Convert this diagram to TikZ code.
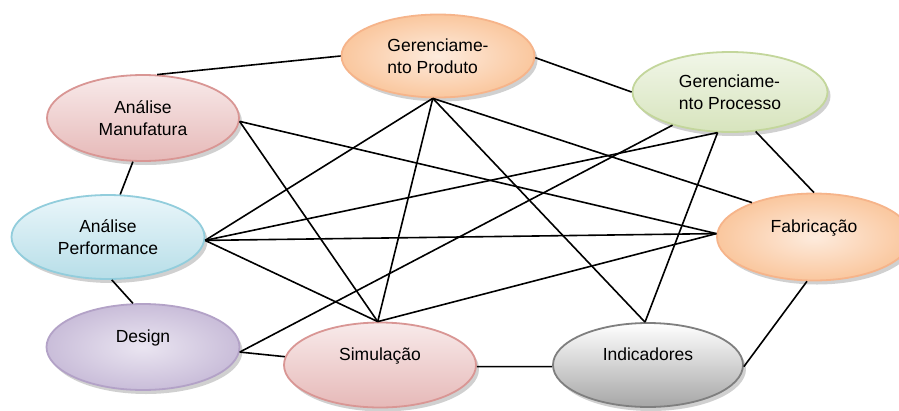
\documentclass[tikz,border=0pt]{standalone}
\usepackage{fontspec}
\setmainfont{Liberation Sans}
\usetikzlibrary{shapes.geometric,shadows}
\definecolor{orBorder}{HTML}{F6B48A}
\definecolor{orIn}{HTML}{FDEBDD}
\definecolor{orOut}{HTML}{FAC79E}
\definecolor{pkBorder}{HTML}{D99694}
\definecolor{pkTop}{HTML}{F8EAEA}
\definecolor{pkBot}{HTML}{E6B9B8}
\definecolor{grBorder}{HTML}{C3D69B}
\definecolor{grTop}{HTML}{F1F6E8}
\definecolor{grBot}{HTML}{D7E4BD}
\definecolor{blBorder}{HTML}{92CDDC}
\definecolor{blTop}{HTML}{EAF6FA}
\definecolor{blBot}{HTML}{B7DEE8}
\definecolor{lvBorder}{HTML}{B3A2C7}
\definecolor{lvIn}{HTML}{EAE5F1}
\definecolor{lvOut}{HTML}{C9BDD9}
\definecolor{gyBorder}{HTML}{7F7F7F}
\definecolor{gyTop}{HTML}{FFFFFF}
\definecolor{gyBot}{HTML}{A6A6A6}
\begin{document}
\begin{tikzpicture}[x=1pt,y=-1pt,
  bub/.style={ellipse, line width=1.8pt, inner sep=0pt,
    font=\fontsize{17.5}{22}\selectfont,
    drop shadow={shadow xshift=3pt, shadow yshift=-4pt, opacity=0.3, fill=black!60}},
  orange bub/.style={bub, draw=orBorder, inner color=orIn, outer color=orOut},
  pink bub/.style={bub, draw=pkBorder, top color=pkTop, bottom color=pkBot},
  green bub/.style={bub, draw=grBorder, top color=grTop, bottom color=grBot},
  blue bub/.style={bub, draw=blBorder, top color=blTop, bottom color=blBot},
  lav bub/.style={bub, draw=lvBorder, inner color=lvIn, outer color=lvOut},
  gray bub/.style={bub, draw=gyBorder, top color=gyTop, bottom color=gyBot},
  link/.style={line width=1.6pt, black}]
\clip (0,0) rectangle (899,410);
\fill[white] (0,0) rectangle (899,410);

\node[orange bub, minimum width=193pt, minimum height=83pt, align=left] (prod) at (438,56) {Gerenciame-\\nto Produto};
\node[pink bub, minimum width=192pt, minimum height=86pt, align=center] (manu) at (143,118) {Análise\\Manufatura};
\node[green bub, minimum width=195pt, minimum height=80pt, align=left] (proc) at (730,92) {Gerenciame-\\nto Processo};
\node[blue bub, minimum width=193pt, minimum height=84pt, align=center] (perf) at (108,237) {Análise\\Performance};
\node[orange bub, minimum width=194pt, minimum height=87pt, align=center] (fab) at (814,237) {Fabricação\\\mbox{}};
\node[lav bub, minimum width=193pt, minimum height=86pt, align=center] (des) at (143,347) {Design\\\mbox{}};
\node[pink bub, minimum width=192pt, minimum height=85pt, align=center] (sim) at (380,365) {Simulação\\\mbox{}};
\node[gray bub, minimum width=190pt, minimum height=84pt, align=center] (ind) at (648,365) {Indicadores\\\mbox{}};

\draw[link] (manu.72) -- (prod.180);
\draw[link] (prod.-1) -- (proc.180);
\draw[link] (manu.257) -- (perf.74);
\draw[link] (perf.275) -- (des.103);
\draw[link] (des.-3) -- (sim.175);
\draw[link] (sim.-1) -- (ind.181);
\draw[link] (ind.-1) -- (fab.261);
\draw[link] (proc.303) -- (fab.90);
\draw[link] (manu.-2) -- (sim.93);
\draw[link] (manu.-2) -- (fab.178);
\draw[link] (prod.263) -- (perf.-2);
\draw[link] (prod.263) -- (sim.93);
\draw[link] (prod.263) -- (ind.94);
\draw[link] (prod.263) -- (fab.151);
\draw[link] (proc.253) -- (perf.-2);
\draw[link] (proc.210) -- (des.-3);
\draw[link] (proc.253) -- (ind.94);
\draw[link] (perf.-2) -- (fab.178);
\draw[link] (perf.-2) -- (sim.93);
\draw[link] (sim.93) -- (fab.178);
\end{tikzpicture}
\end{document}
